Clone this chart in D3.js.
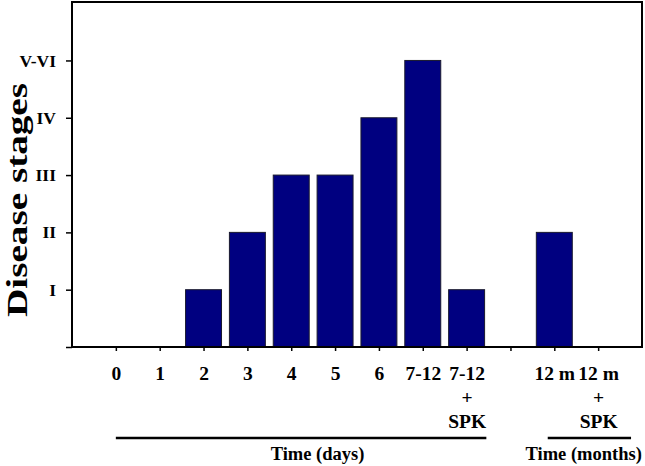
<!DOCTYPE html>
<html>
<head>
<meta charset="utf-8">
<script src="https://cdn.jsdelivr.net/npm/d3@7"></script>
<style>
  html, body { margin: 0; padding: 0; background: #fff; }
  svg { display: block; }
  text { font-family: "Liberation Serif", "Times New Roman", serif; font-weight: bold; fill: #000; }
</style>
</head>
<body>
<svg id="chart" width="645" height="466"></svg>
<script>
// ---- data ----
const categories = ["0", "1", "2", "3", "4", "5", "6", "7-12", "7-12|+|SPK", "", "12 m", "12 m|+|SPK"];
const stageValues = [0, 0, 1, 2, 3, 3, 4, 5, 1, 0, 2, 0];
const stageTicks = [0, 1, 2, 3, 4, 5];
const stageLabels = ["", "I", "II", "III", "IV", "V-VI"];
const timeGroups = ["Time (days)", "Time (months)"];
const groupStart = [0, 9.85];
const groupEnd = [8.45, 11.75];
const groupLabelCenter = [4.6, 10.67];

// ---- layout ----
const svg = d3.select("#chart");
const mLeft = 72, mRight = 642, mTop = 2, mBottom = 347;

const x = d3.scaleLinear().domain([-1, 12]).range([mLeft, mRight]);
const y = d3.scaleLinear().domain([0, 6.02]).range([mBottom, mTop]);
const halfBar = (x(0.41) - x(0));

// bars
svg.append("g").selectAll("rect")
  .data(stageValues.map((v, i) => ({ i, v })).filter(d => d.v > 0))
  .join("rect")
  .attr("x", d => x(d.i) - halfBar)
  .attr("width", halfBar * 2)
  .attr("y", d => y(d.v))
  .attr("height", d => y(0) - y(d.v))
  .attr("fill", "#000080")
  .attr("stroke", "#1a1a2e")
  .attr("stroke-width", 1);

// frame
svg.append("rect")
  .attr("x", mLeft).attr("y", mTop)
  .attr("width", mRight - mLeft).attr("height", mBottom - mTop)
  .attr("fill", "none").attr("stroke", "#000").attr("stroke-width", 2);

// y axis
const yAxis = d3.axisLeft(y)
  .tickValues(stageTicks)
  .tickSize(6)
  .tickPadding(10)
  .tickFormat((d, i) => stageLabels[i]);
const gy = svg.append("g").attr("transform", `translate(${mLeft},0)`).call(yAxis);
gy.select(".domain").remove();
gy.selectAll(".tick line").attr("stroke", "#000").attr("stroke-width", 1.5);
gy.selectAll(".tick text")
  .style("font-family", "'Liberation Serif', serif")
  .style("font-weight", "bold")
  .style("font-size", "17.5px")
  .attr("fill", "#000");

// x axis
const xAxis = d3.axisBottom(x)
  .tickValues(d3.range(categories.length))
  .tickSize(4)
  .tickFormat("");
const gx = svg.append("g").attr("transform", `translate(0,${mBottom})`).call(xAxis);
gx.select(".domain").remove();
gx.selectAll(".tick line").attr("stroke", "#000").attr("stroke-width", 1.5);
gx.selectAll(".tick").each(function (d, i) {
  const lines = categories[i].split("|");
  const t = d3.select(this).append("text")
    .attr("text-anchor", "middle")
    .style("font-family", "'Liberation Serif', serif")
    .style("font-weight", "bold")
    .style("font-size", "19.5px")
    .attr("fill", "#000");
  lines.forEach((s, k) => {
    t.append("tspan").attr("x", 0).attr("y", 33 + k * 24).text(s);
  });
});

// group lines and labels
timeGroups.forEach((g, i) => {
  svg.append("line")
    .attr("x1", x(groupStart[i])).attr("x2", x(groupEnd[i]))
    .attr("y1", 438).attr("y2", 438)
    .attr("stroke", "#000").attr("stroke-width", 2.5);
  svg.append("text")
    .attr("x", x(groupLabelCenter[i])).attr("y", 460)
    .attr("text-anchor", "middle")
    .style("font-size", "18.5px")
    .text(g);
});

// y title
svg.append("text")
  .attr("transform", "translate(27,200) rotate(-90)")
  .attr("text-anchor", "middle")
  .style("font-size", "29px")
  .attr("textLength", 234)
  .attr("lengthAdjust", "spacingAndGlyphs")
  .text("Disease stages");
</script>
</body>
</html>
